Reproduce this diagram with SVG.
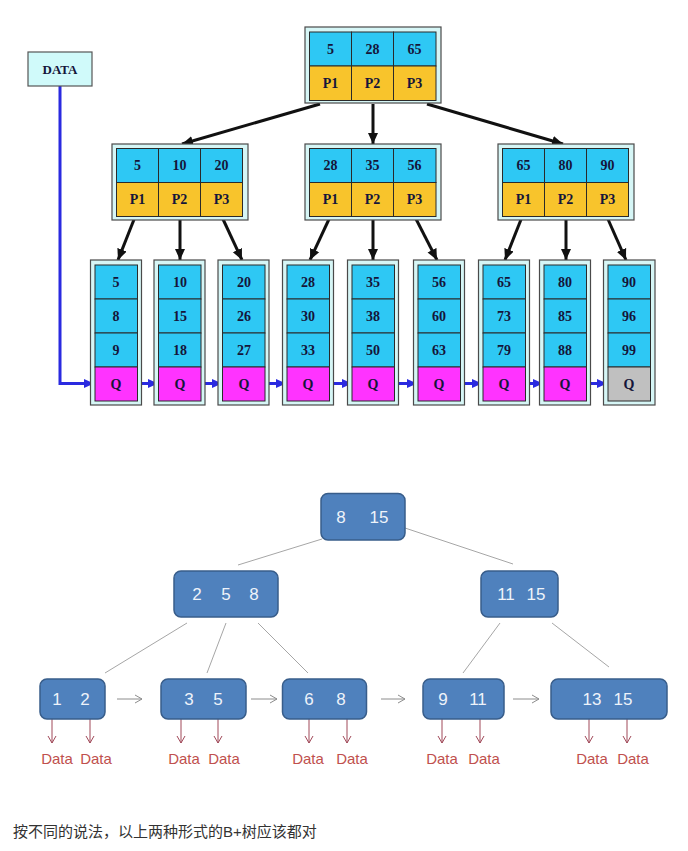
<svg xmlns="http://www.w3.org/2000/svg" width="688" height="851" viewBox="0 0 688 851">
<style>
.outer{fill:#d6f6f6;stroke:#4a4a4a;stroke-width:1.2}
.cy{fill:#2ec8f4;stroke:#2a2a2a;stroke-width:1}
.ye{fill:#f8c42c;stroke:#2a2a2a;stroke-width:1}
.mg{fill:#ff33ff;stroke:#2a2a2a;stroke-width:1}
.gr{fill:#c0c0c0;stroke:#2a2a2a;stroke-width:1}
.t{font-family:"Liberation Serif",serif;font-weight:bold;font-size:14px;fill:#15153a;text-anchor:middle;dominant-baseline:central}
.blk{stroke:#111;stroke-width:3;fill:none;marker-end:url(#ab)}
.blu{stroke:#2a2ae0;stroke-width:3;fill:none;marker-end:url(#au)}
.bn{fill:#4f81bd;stroke:#385d8a;stroke-width:1.5}
.bt{font-family:"Liberation Sans",Arial,sans-serif;font-size:17px;fill:#eef3fa;text-anchor:middle;dominant-baseline:central}
.gl{stroke:#a6a6a6;stroke-width:1;fill:none}
.ga{stroke:#8c8c8c;stroke-width:1;fill:none;marker-end:url(#ag)}
.ra{stroke:#a04858;stroke-width:1;fill:none;marker-end:url(#ar)}
.dt{font-family:"Liberation Sans",Arial,sans-serif;font-size:15px;fill:#c0504d;text-anchor:middle}
.cap{font-family:"Liberation Sans","Noto Sans CJK SC",sans-serif;font-size:15px;fill:#333}
</style>
<defs>
<marker id="ab" markerUnits="userSpaceOnUse" markerWidth="12" markerHeight="12" viewBox="0 0 12 12" refX="11" refY="6" orient="auto"><path d="M0,1 L11,6 L0,11 Z" fill="#111"/></marker>
<marker id="au" markerUnits="userSpaceOnUse" markerWidth="11" markerHeight="11" viewBox="0 0 11 11" refX="10" refY="5.5" orient="auto"><path d="M0,1 L10,5.5 L0,10 Z" fill="#2a2ae0"/></marker>
<marker id="ag" markerUnits="userSpaceOnUse" markerWidth="10" markerHeight="10" viewBox="0 0 10 10" refX="9" refY="5" orient="auto"><path d="M2,1 L9,5 L2,9" fill="none" stroke="#8c8c8c" stroke-width="1"/></marker>
<marker id="ar" markerUnits="userSpaceOnUse" markerWidth="10" markerHeight="10" viewBox="0 0 10 10" refX="9" refY="5" orient="auto"><path d="M2,1 L9,5 L2,9" fill="none" stroke="#a04858" stroke-width="1"/></marker>
</defs>
<rect width="688" height="851" fill="#fff"/>

<g id="connectors">
<path class="blu" d="M60,86 V383.5 H94"/>
<path class="blu" d="M137,383.5 H158"/>
<path class="blu" d="M201,383.5 H222"/>
<path class="blu" d="M265,383.5 H286"/>
<path class="blu" d="M329,383.5 H352"/>
<path class="blu" d="M395,383.5 H417"/>
<path class="blu" d="M460,383.5 H482"/>
<path class="blu" d="M525,383.5 H543"/>
<path class="blu" d="M586,383.5 H607"/>
<path class="blk" d="M320,104 L182,144"/>
<path class="blk" d="M373,104 L373,144"/>
<path class="blk" d="M427,104 L563,144"/>
<path class="blk" d="M135,217 L118,260"/>
<path class="blk" d="M180,217 L180,260"/>
<path class="blk" d="M222,217 L242,260"/>
<path class="blk" d="M330,217 L310,260"/>
<path class="blk" d="M373,217 L373,260"/>
<path class="blk" d="M415,217 L437,260"/>
<path class="blk" d="M522,217 L505,260"/>
<path class="blk" d="M566,217 L566,260"/>
<path class="blk" d="M607,217 L626,260"/>
<path class="gl" d="M322,539 L238,565"/>
<path class="gl" d="M405,528 L513,564"/>
<path class="gl" d="M187,623 L105,673"/>
<path class="gl" d="M226,623 L207,673"/>
<path class="gl" d="M258,623 L308,673"/>
<path class="gl" d="M500,623 L463,673"/>
<path class="gl" d="M552,623 L609,667"/>
<path class="ga" d="M117,699 H142"/>
<path class="ga" d="M251,699 H277"/>
<path class="ga" d="M381,699 H405"/>
<path class="ga" d="M513,699 H539"/>
<path class="ra" d="M52,710 V743"/>
<path class="ra" d="M90,710 V743"/>
<path class="ra" d="M181,710 V743"/>
<path class="ra" d="M218,710 V743"/>
<path class="ra" d="M309,710 V743"/>
<path class="ra" d="M347,710 V743"/>
<path class="ra" d="M442,710 V743"/>
<path class="ra" d="M480,710 V743"/>
<path class="ra" d="M589,710 V743"/>
<path class="ra" d="M627,710 V743"/>
</g>

<g id="data">
<rect x="28" y="52" width="64" height="34" fill="#d0fafa" stroke="#555" stroke-width="1.2"/>
<text class="t" x="60" y="69" style="font-size:13px">DATA</text>
</g>

<g id="root">
<rect class="outer" x="305" y="27" width="136" height="76"/>
<rect class="cy" x="309.5" y="32" width="42" height="34"/><rect class="cy" x="351.5" y="32" width="42" height="34"/><rect class="cy" x="393.5" y="32" width="42.5" height="34"/>
<rect class="ye" x="309.5" y="66" width="42" height="34.5"/><rect class="ye" x="351.5" y="66" width="42" height="34.5"/><rect class="ye" x="393.5" y="66" width="42.5" height="34.5"/>
<text class="t" x="330.5" y="49">5</text><text class="t" x="372.5" y="49">28</text><text class="t" x="414.5" y="49">65</text>
<text class="t" x="330.5" y="83">P1</text><text class="t" x="372.5" y="83">P2</text><text class="t" x="414.5" y="83">P3</text>
</g>

<g id="mid1">
<rect class="outer" x="112" y="144" width="136" height="76"/>
<rect class="cy" x="116.5" y="148.5" width="42" height="34"/><rect class="cy" x="158.5" y="148.5" width="42" height="34"/><rect class="cy" x="200.5" y="148.5" width="42" height="34"/>
<rect class="ye" x="116.5" y="182.5" width="42" height="34"/><rect class="ye" x="158.5" y="182.5" width="42" height="34"/><rect class="ye" x="200.5" y="182.5" width="42" height="34"/>
<text class="t" x="137.5" y="165.5">5</text><text class="t" x="179.5" y="165.5">10</text><text class="t" x="221.5" y="165.5">20</text>
<text class="t" x="137.5" y="199.5">P1</text><text class="t" x="179.5" y="199.5">P2</text><text class="t" x="221.5" y="199.5">P3</text>
</g>

<g id="mid2">
<rect class="outer" x="305" y="144" width="136" height="76"/>
<rect class="cy" x="309.5" y="148.5" width="42" height="34"/><rect class="cy" x="351.5" y="148.5" width="42" height="34"/><rect class="cy" x="393.5" y="148.5" width="42.5" height="34"/>
<rect class="ye" x="309.5" y="182.5" width="42" height="34"/><rect class="ye" x="351.5" y="182.5" width="42" height="34"/><rect class="ye" x="393.5" y="182.5" width="42.5" height="34"/>
<text class="t" x="330.5" y="165.5">28</text><text class="t" x="372.5" y="165.5">35</text><text class="t" x="414.5" y="165.5">56</text>
<text class="t" x="330.5" y="199.5">P1</text><text class="t" x="372.5" y="199.5">P2</text><text class="t" x="414.5" y="199.5">P3</text>
</g>

<g id="mid3">
<rect class="outer" x="498" y="144" width="136" height="76"/>
<rect class="cy" x="502.5" y="148.5" width="42" height="34"/><rect class="cy" x="544.5" y="148.5" width="42" height="34"/><rect class="cy" x="586.5" y="148.5" width="42" height="34"/>
<rect class="ye" x="502.5" y="182.5" width="42" height="34"/><rect class="ye" x="544.5" y="182.5" width="42" height="34"/><rect class="ye" x="586.5" y="182.5" width="42" height="34"/>
<text class="t" x="523.5" y="165.5">65</text><text class="t" x="565.5" y="165.5">80</text><text class="t" x="607.5" y="165.5">90</text>
<text class="t" x="523.5" y="199.5">P1</text><text class="t" x="565.5" y="199.5">P2</text><text class="t" x="607.5" y="199.5">P3</text>
</g>

<g id="leaf1"><rect class="outer" x="90.5" y="260" width="51" height="145"/>
<rect class="cy" x="95" y="265" width="42.5" height="34"/><rect class="cy" x="95" y="299" width="42.5" height="34"/><rect class="cy" x="95" y="333" width="42.5" height="34"/><rect class="mg" x="95" y="367" width="42.5" height="34"/>
<text class="t" x="116" y="282">5</text><text class="t" x="116" y="316">8</text><text class="t" x="116" y="350">9</text><text class="t" x="116" y="384">Q</text></g>

<g id="leaf2"><rect class="outer" x="154" y="260" width="51" height="145"/>
<rect class="cy" x="158.5" y="265" width="42.5" height="34"/><rect class="cy" x="158.5" y="299" width="42.5" height="34"/><rect class="cy" x="158.5" y="333" width="42.5" height="34"/><rect class="mg" x="158.5" y="367" width="42.5" height="34"/>
<text class="t" x="180" y="282">10</text><text class="t" x="180" y="316">15</text><text class="t" x="180" y="350">18</text><text class="t" x="180" y="384">Q</text></g>

<g id="leaf3"><rect class="outer" x="218" y="260" width="51" height="145"/>
<rect class="cy" x="222.5" y="265" width="42.5" height="34"/><rect class="cy" x="222.5" y="299" width="42.5" height="34"/><rect class="cy" x="222.5" y="333" width="42.5" height="34"/><rect class="mg" x="222.5" y="367" width="42.5" height="34"/>
<text class="t" x="244" y="282">20</text><text class="t" x="244" y="316">26</text><text class="t" x="244" y="350">27</text><text class="t" x="244" y="384">Q</text></g>

<g id="leaf4"><rect class="outer" x="282.5" y="260" width="51" height="145"/>
<rect class="cy" x="287" y="265" width="42.5" height="34"/><rect class="cy" x="287" y="299" width="42.5" height="34"/><rect class="cy" x="287" y="333" width="42.5" height="34"/><rect class="mg" x="287" y="367" width="42.5" height="34"/>
<text class="t" x="308" y="282">28</text><text class="t" x="308" y="316">30</text><text class="t" x="308" y="350">33</text><text class="t" x="308" y="384">Q</text></g>

<g id="leaf5"><rect class="outer" x="347.5" y="260" width="51" height="145"/>
<rect class="cy" x="352" y="265" width="42.5" height="34"/><rect class="cy" x="352" y="299" width="42.5" height="34"/><rect class="cy" x="352" y="333" width="42.5" height="34"/><rect class="mg" x="352" y="367" width="42.5" height="34"/>
<text class="t" x="373" y="282">35</text><text class="t" x="373" y="316">38</text><text class="t" x="373" y="350">50</text><text class="t" x="373" y="384">Q</text></g>

<g id="leaf6"><rect class="outer" x="413.5" y="260" width="51" height="145"/>
<rect class="cy" x="418" y="265" width="42.5" height="34"/><rect class="cy" x="418" y="299" width="42.5" height="34"/><rect class="cy" x="418" y="333" width="42.5" height="34"/><rect class="mg" x="418" y="367" width="42.5" height="34"/>
<text class="t" x="439" y="282">56</text><text class="t" x="439" y="316">60</text><text class="t" x="439" y="350">63</text><text class="t" x="439" y="384">Q</text></g>

<g id="leaf7"><rect class="outer" x="478.5" y="260" width="51" height="145"/>
<rect class="cy" x="483" y="265" width="42.5" height="34"/><rect class="cy" x="483" y="299" width="42.5" height="34"/><rect class="cy" x="483" y="333" width="42.5" height="34"/><rect class="mg" x="483" y="367" width="42.5" height="34"/>
<text class="t" x="504" y="282">65</text><text class="t" x="504" y="316">73</text><text class="t" x="504" y="350">79</text><text class="t" x="504" y="384">Q</text></g>

<g id="leaf8"><rect class="outer" x="539.5" y="260" width="51" height="145"/>
<rect class="cy" x="544" y="265" width="42.5" height="34"/><rect class="cy" x="544" y="299" width="42.5" height="34"/><rect class="cy" x="544" y="333" width="42.5" height="34"/><rect class="mg" x="544" y="367" width="42.5" height="34"/>
<text class="t" x="565" y="282">80</text><text class="t" x="565" y="316">85</text><text class="t" x="565" y="350">88</text><text class="t" x="565" y="384">Q</text></g>

<g id="leaf9"><rect class="outer" x="603.5" y="260" width="51.5" height="145"/>
<rect class="cy" x="608" y="265" width="42.5" height="34"/><rect class="cy" x="608" y="299" width="42.5" height="34"/><rect class="cy" x="608" y="333" width="42.5" height="34"/><rect class="gr" x="608" y="367" width="42.5" height="34"/>
<text class="t" x="629" y="282">90</text><text class="t" x="629" y="316">96</text><text class="t" x="629" y="350">99</text><text class="t" x="629" y="384">Q</text></g>

<g id="b-root"><rect class="bn" x="321" y="493.5" width="84" height="46.5" rx="7"/>
<text class="bt" x="341" y="517">8</text><text class="bt" x="379" y="517">15</text></g>
<g id="b-left"><rect class="bn" x="174" y="571" width="104" height="46" rx="7"/>
<text class="bt" x="197" y="594">2</text><text class="bt" x="226" y="594">5</text><text class="bt" x="254" y="594">8</text></g>
<g id="b-right"><rect class="bn" x="481" y="571" width="77" height="46" rx="7"/>
<text class="bt" x="506" y="594">11</text><text class="bt" x="536" y="594">15</text></g>
<g id="b-leaf1"><rect class="bn" x="40" y="679" width="65" height="40" rx="7"/>
<text class="bt" x="57" y="699">1</text><text class="bt" x="85" y="699">2</text></g>
<g id="b-leaf2"><rect class="bn" x="161" y="679" width="85" height="40" rx="7"/>
<text class="bt" x="189" y="699">3</text><text class="bt" x="218" y="699">5</text></g>
<g id="b-leaf3"><rect class="bn" x="282.5" y="679" width="84" height="40" rx="7"/>
<text class="bt" x="309" y="699">6</text><text class="bt" x="341" y="699">8</text></g>
<g id="b-leaf4"><rect class="bn" x="423" y="679" width="81" height="40" rx="7"/>
<text class="bt" x="443" y="699">9</text><text class="bt" x="478" y="699">11</text></g>
<g id="b-leaf5"><rect class="bn" x="551" y="679" width="116" height="40" rx="7"/>
<text class="bt" x="592" y="699">13</text><text class="bt" x="623" y="699">15</text></g>

<g id="data-labels">
<text class="dt" x="57" y="764">Data</text><text class="dt" x="96" y="764">Data</text>
<text class="dt" x="184" y="764">Data</text><text class="dt" x="224" y="764">Data</text>
<text class="dt" x="308" y="764">Data</text><text class="dt" x="352" y="764">Data</text>
<text class="dt" x="442" y="764">Data</text><text class="dt" x="484" y="764">Data</text>
<text class="dt" x="592" y="764">Data</text><text class="dt" x="633" y="764">Data</text>
</g>

<text class="cap" x="13" y="837">按不同的说法，以上两种形式的B+树应该都对</text>
</svg>
